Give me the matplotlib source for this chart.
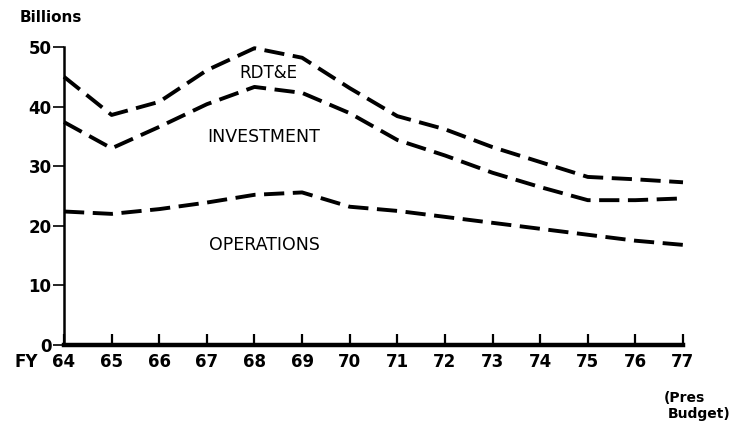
import matplotlib
matplotlib.use("Agg")
import matplotlib.pyplot as plt

years = [64, 65, 66, 67, 68, 69, 70, 71, 72, 73, 74, 75, 76, 77]
x_labels = ["64", "65", "66", "67", "68", "69", "70", "71", "72", "73", "74", "75", "76", "77"]
rdte = [45.0, 38.6, 40.8, 46.1, 49.8, 48.2, 43.1, 38.4, 36.2, 33.2, 30.7, 28.2, 27.8, 27.3]
investment = [37.4, 33.0, 36.6, 40.4, 43.3, 42.3, 38.9, 34.4, 31.8, 28.9, 26.5, 24.3, 24.3, 24.6]
operations = [22.4, 22.0, 22.8, 23.9, 25.2, 25.6, 23.2, 22.5, 21.5, 20.5, 19.5, 18.5, 17.5, 16.8]
y_ticks = [0, 10, 20, 30, 40, 50]

plt.rcParams['font.family'] = ['DejaVu Sans']

fig = plt.figure(figsize=(7.34, 4.29), dpi=100)
ax = fig.add_axes([64/734, 1 - 345/429, (683 - 64)/734, (345 - 47)/429])

for series in (rdte, investment, operations):
    ax.plot(years, series, color='black', lw=2.8, dashes=(5.2, 2.2), solid_capstyle='butt',
            dash_capstyle='butt', clip_on=False)

ax.set_xlim(64, 77)
ax.set_ylim(0, 50)
for s in ('top', 'right'):
    ax.spines[s].set_visible(False)
ax.spines['bottom'].set_linewidth(3.2)
ax.spines['left'].set_linewidth(1.8)

ax.set_xticks(years)
ax.set_xticklabels(x_labels, fontsize=12, fontweight='bold')
ax.tick_params(axis='x', direction='in', length=8, width=1.6, pad=6)
ax.set_yticks(y_ticks)
ax.set_yticklabels([str(v) for v in y_ticks], fontsize=12, fontweight='bold')
ax.tick_params(axis='y', direction='out', length=8, width=1.2, pad=1)

ax.text(68.3, 45.6, "RDT&E", fontsize=12, ha='center', va='center')
ax.text(68.2, 34.9, "INVESTMENT", fontsize=12.5, ha='center', va='center')
ax.text(68.2, 16.8, "OPERATIONS", fontsize=12.5, ha='center', va='center')

fig.text(20/734, 1 - 18/429, "Billions", fontsize=11, fontweight='bold', ha='left', va='center')
fig.text(15/734, 1 - 362/429, "FY", fontsize=12, fontweight='bold', ha='left', va='center')
fig.text(664/734, 1 - 398/429, "(Pres", fontsize=10, fontweight='bold', ha='left', va='center')
fig.text(668/734, 1 - 414/429, "Budget)", fontsize=10, fontweight='bold', ha='left', va='center')

fig.savefig("out.png", dpi=100)
